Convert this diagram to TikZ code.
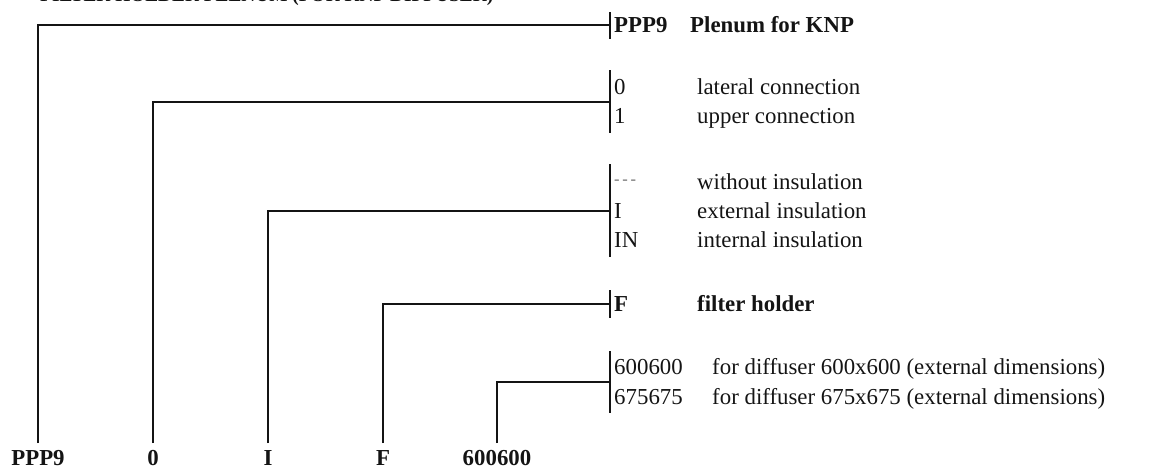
\documentclass[tikz,border=0pt]{standalone}
\usepackage{fontspec}
\setmainfont{Liberation Serif}
\usetikzlibrary{positioning}
\definecolor{keyBlack}{RGB}{20,20,20}
\definecolor{dashGrey}{RGB}{110,110,110}
\tikzset{
  rowtext/.style={
    anchor=base west, inner sep=0pt,
    text=keyBlack, font=\fontsize{19.5}{23}\selectfont},
  rowbold/.style={
    rowtext, font=\fontsize{19.5}{23}\selectfont\bfseries},
  keylabel/.style={
    anchor=north, inner sep=0pt, outer xsep=0pt, outer ysep=0.21cm,
    text height=13pt, text depth=0pt, text=keyBlack,
    font=\fontsize{19.5}{23}\selectfont\bfseries},
  bracket/.style={line width=1.7pt, draw=keyBlack},
  leadline/.style={line width=1.5pt, draw=keyBlack}
}

\begin{document}
\begin{tikzpicture}[x=0.03cm, y=-0.03cm]
        \useasboundingbox (0,0) rectangle (1159,469);

        % heading, cut off at the top edge
        \node[anchor=base west, inner sep=0pt, text=keyBlack,
              font=\fontsize{16.5}{20}\selectfont\bfseries] (title) at (40,1.5)
              {FILTER HOLDER PLENUM (FOR KNP DIFFUSER)};

        % order code along the bottom
        \node[keylabel] (keyPPP) at (38,443)  {PPP9};
        \node[keylabel] (keyCon) at (153,443) {0};
        \node[keylabel] (keyIns) at (268,443) {I};
        \node[keylabel] (keyFil) at (383,443) {F};
        \node[keylabel] (keyDim) at (497,443) {600600};

        % joints on the brackets
        \coordinate (jPPP) at (610,25);
        \coordinate (jCon) at (610,102);
        \coordinate (jIns) at (610,211);
        \coordinate (jFil) at (610,304);
        \coordinate (jDim) at (610,382);

        % brackets
        \draw[bracket] (610,12)  -- (610,39);
        \draw[bracket] (610,70)  -- (610,133);
        \draw[bracket] (610,164) -- (610,257);
        \draw[bracket] (610,290) -- (610,318);
        \draw[bracket] (610,351) -- (610,413);

        % options (y = baseline)
        \node[rowbold] (cPPP) at (614,32) {PPP9};
        \node[rowbold] (dPPP) at (690,32) {Plenum for KNP};

        \node[rowtext] (cLat) at (614,94)  {0};
        \node[rowtext] (dLat) at (697,94)  {lateral connection};
        \node[rowtext] (cUpp) at (614,123) {1};
        \node[rowtext] (dUpp) at (697,123) {upper connection};

        \node[rowtext, text=dashGrey, font=\fontsize{14}{16}\selectfont\itshape]
              (cNone) at (614,184) {-\,-\,-};
        \node[rowtext] (dNone) at (697,189) {without insulation};
        \node[rowtext] (cExt)  at (614,218) {I};
        \node[rowtext] (dExt)  at (697,218) {external insulation};
        \node[rowtext] (cInt)  at (614,247) {IN};
        \node[rowtext] (dInt)  at (697,247) {internal insulation};

        \node[rowbold] (cFil) at (614,311) {F};
        \node[rowbold] (dFil) at (697,311) {filter holder};

        \node[rowtext] (c600) at (614,374) {600600};
        \node[rowtext] (d600) at (712,374) {for diffuser 600x600 (external dimensions)};
        \node[rowtext] (c675) at (614,404) {675675};
        \node[rowtext] (d675) at (712,404) {for diffuser 675x675 (external dimensions)};

        % leaders
        \draw[leadline] (keyPPP.north) |- (jPPP);
        \draw[leadline] (keyCon.north) |- (jCon);
        \draw[leadline] (keyIns.north) |- (jIns);
        \draw[leadline] (keyFil.north) |- (jFil);
        \draw[leadline] (keyDim.north) |- (jDim);
      \end{tikzpicture}
\end{document}
